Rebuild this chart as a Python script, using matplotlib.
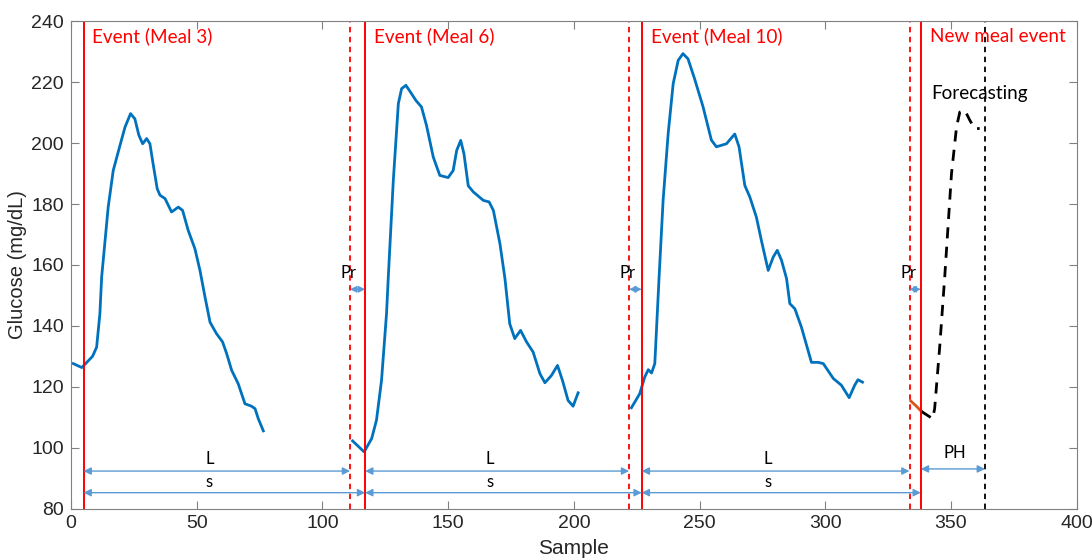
import matplotlib.pyplot as plt

plt.rcParams['font.family'] = ['Liberation Sans', 'DejaVu Sans']

# glucose traces (sample, mg/dL)
seg1_x = [0.9, 4.3, 8.6, 10.2, 11.5, 12.2, 14.8, 16.8, 19.5, 21.5, 23.7, 25.4, 27.0, 28.5,
          30.1, 31.4, 32.7, 34.3, 35.4, 37.4, 40.0, 42.7, 44.4, 46.6, 49.3, 51.3, 53.3,
          55.3, 57.9, 60.3, 61.9, 63.9, 66.5, 69.2, 71.8, 73.2, 74.5, 76.5]
seg1_y = [127.6, 126.3, 130.0, 133.0, 144.0, 156.0, 179.0, 191.0, 199.3, 205.3, 209.7, 208.0,
          202.6, 199.8, 201.5, 199.8, 193.0, 185.0, 182.9, 181.8, 177.4, 179.0, 177.9, 171.4,
          165.3, 158.2, 149.5, 141.2, 137.4, 134.7, 130.9, 125.4, 121.0, 114.4, 113.6, 112.8,
          109.5, 105.5]

seg2_x = [112.0, 116.6, 119.6, 121.5, 123.5, 125.5, 126.2, 128.2, 130.2, 131.5, 133.2, 135.0,
          137.2, 139.4, 141.4, 144.1, 146.7, 150.0, 152.0, 153.4, 155.0, 156.3, 158.0, 160.0,
          164.0, 166.3, 168.0, 170.6, 172.6, 174.5, 176.5, 178.8, 181.2, 183.8, 186.5, 188.5,
          191.1, 193.5, 195.5, 197.7, 199.7, 201.7]
seg2_y = [102.2, 98.6, 103.0, 109.0, 122.0, 144.0, 156.0, 187.8, 213.0, 217.9, 219.0, 216.8,
          214.0, 211.9, 205.8, 195.4, 189.4, 188.7, 191.0, 197.6, 200.9, 196.5, 186.0, 184.0,
          181.2, 180.7, 177.9, 167.0, 155.5, 140.7, 135.8, 138.5, 134.7, 131.4, 124.3, 121.3,
          123.7, 127.0, 122.0, 115.5, 113.6, 118.0]

seg3_x = [222.9, 226.2, 228.2, 229.6, 230.9, 232.2, 233.9, 235.5, 237.5, 239.5, 241.5, 243.4,
          245.4, 248.0, 251.4, 254.7, 256.7, 260.7, 264.0, 265.7, 268.0, 270.0, 272.6, 274.6,
          277.3, 279.3, 280.9, 282.6, 284.6, 285.9, 287.9, 290.5, 294.5, 297.2, 299.2, 303.2,
          306.4, 309.5, 311.7, 313.0, 314.8]
seg3_y = [113.1, 117.7, 123.2, 125.6, 124.5, 127.6, 156.0, 181.2, 203.0, 219.5, 227.2, 229.4,
          227.7, 221.2, 211.9, 201.0, 198.8, 199.8, 203.0, 198.8, 186.1, 182.3, 175.7, 168.0,
          158.2, 162.6, 164.8, 161.5, 155.5, 147.3, 145.6, 139.6, 128.0, 128.0, 127.6, 122.7,
          120.5, 116.4, 120.5, 122.3, 121.5]

hist_x = [334.0, 336.0, 338.2]
hist_y = [115.3, 113.8, 111.9]

fc_x = [338.2, 342.7, 343.5, 345.5, 347.5, 350.2, 352.2, 353.5, 355.5, 357.5, 359.4, 361.4]
fc_y = [111.9, 109.5, 112.8, 133.0, 156.0, 190.0, 205.3, 210.2, 210.8, 207.5, 204.8, 204.8]

# event markers
meal_x = [5, 117, 227, 338]
meal_labels = ['Event (Meal 3)', 'Event (Meal 6)', 'Event (Meal 10)', 'New meal event']
pr_x = [111, 222, 333.5]
ph_end = 363.5

red = '#FF0000'
blue = '#0072BD'
arrow_c = '#5B9BD5'
txt_font = ['Lato', 'DejaVu Sans']

fig = plt.figure(figsize=(10.92, 5.58), dpi=100)
ax = fig.add_axes([0.065, 0.0887, 0.921, 0.873])

ax.plot(seg1_x, seg1_y, color=blue, lw=2)
ax.plot(seg2_x, seg2_y, color=blue, lw=2)
ax.plot(seg3_x, seg3_y, color=blue, lw=2)
ax.plot(hist_x, hist_y, color='#D95319', lw=2)
ax.plot(fc_x, fc_y, color='black', lw=2, ls=(0, (4, 3)))

for x, lab in zip(meal_x, meal_labels):
    ax.axvline(x, color=red, lw=1.4)
    ax.text(x + 3.5, 235, lab, color=red, fontsize=13.6, family=txt_font,
            ha='left', va='center')

for x in pr_x:
    ax.axvline(x, color=red, lw=1.3, ls=(0, (3, 2.5)))
    ax.text(x - 0.5, 157.3, 'Pr', fontsize=12, family=txt_font, ha='center', va='center')

ax.axvline(ph_end, color='black', lw=1.3, ls=(0, (3, 2.5)))

arrow = dict(arrowstyle='<|-|>', color=arrow_c, lw=1, mutation_scale=11,
             shrinkA=0, shrinkB=0)
small_arrow = dict(arrow, mutation_scale=9.5)

# Pr arrows
for x, s in zip(pr_x, meal_x[1:]):
    ax.annotate('', xy=(x, 152), xytext=(s, 152), arrowprops=small_arrow)

# L and s arrows
for i in range(3):
    a = meal_x[i]
    ax.annotate('', xy=(a, 92.3), xytext=(pr_x[i], 92.3), arrowprops=arrow)
    ax.annotate('', xy=(a, 85.2), xytext=(meal_x[i + 1], 85.2), arrowprops=arrow)
    mid = (a + pr_x[i]) / 2 - 3
    ax.text(mid, 96.3, 'L', fontsize=12, family=txt_font, ha='center', va='center')
    ax.text(mid, 88.8, 's', fontsize=12, family=txt_font, ha='center', va='center')

ax.annotate('', xy=(meal_x[3], 93), xytext=(ph_end, 93), arrowprops=arrow)
ax.text(351.5, 98.2, 'PH', fontsize=12, family=txt_font, ha='center', va='center')

ax.text(342.2, 216.4, 'Forecasting', fontsize=13.6, family=txt_font, ha='left', va='center')

ax.set_xlim(0, 400)
ax.set_ylim(80, 240)
ax.set_xticks(range(0, 401, 50))
ax.set_yticks(range(80, 241, 20))
ax.tick_params(direction='in', length=6, width=0.8, color='#808080', labelsize=14,
               labelcolor='#262626', top=True, right=True, pad=5)
for sp in ax.spines.values():
    sp.set_color('#808080')
    sp.set_linewidth(0.8)
ax.set_xlabel('Sample', fontsize=15, color='#262626', labelpad=5)
ax.set_ylabel('Glucose (mg/dL)', fontsize=14.5, color='#262626', labelpad=3)

fig.savefig('out.png', dpi=100)
